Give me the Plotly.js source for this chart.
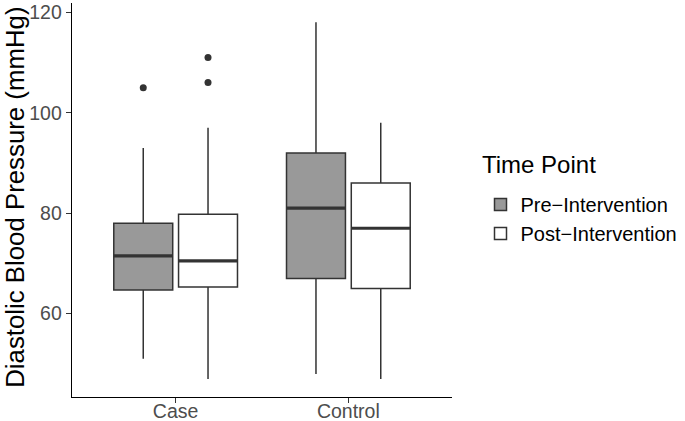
<!DOCTYPE html>
<html>
<head>
<meta charset="utf-8">
<script src="https://cdn.plot.ly/plotly-3.0.1.min.js"></script>
<style>
  html, body { margin: 0; padding: 0; background: #fff; }
  #chart { width: 685px; height: 421px; }
</style>
</head>
<body>
<div id="chart"></div>
<script>
const groups = ["Case", "Control"];

// box stats: [Case, Control]
const preQ1 = [64.7, 67];
const preMedian = [71.5, 81];
const preQ3 = [78, 92];
const preLow = [51, 48];
const preHigh = [93, 118];

const postQ1 = [65.3, 65];
const postMedian = [70.5, 77];
const postQ3 = [79.8, 86];
const postLow = [47, 47];
const postHigh = [97, 98];

const preOutX = ["Case"];
const preOutY = [105];
const postOutX = ["Case", "Case"];
const postOutY = [111, 106];

const dark = "#333333";
const font = "Liberation Sans, Arial, sans-serif";

function boxTrace(name, q1, med, q3, lo, hi, fill, grp) {
  return {
    type: "box", name: name, x: groups,
    q1: q1, median: med, q3: q3, lowerfence: lo, upperfence: hi,
    fillcolor: fill, line: {color: dark, width: 1.5},
    whiskerwidth: 0, boxpoints: false,
    offsetgroup: grp, hoverinfo: "skip"
  };
}

// thick median bar on top of each box
function medianTrace(med, grp) {
  return {
    type: "scatter", mode: "markers", x: groups, y: med,
    offsetgroup: grp, showlegend: false, hoverinfo: "skip",
    marker: {symbol: "line-ew", size: 42, color: dark, line: {color: dark, width: 3.2}}
  };
}

function outlierTrace(xs, ys, grp) {
  return {
    type: "scatter", mode: "markers", x: xs, y: ys,
    offsetgroup: grp, showlegend: false, hoverinfo: "skip",
    marker: {size: 7, color: dark}
  };
}

const data = [
  boxTrace("Pre\u2212Intervention", preQ1, preMedian, preQ3, preLow, preHigh, "#999999", "pre"),
  boxTrace("Post\u2212Intervention", postQ1, postMedian, postQ3, postLow, postHigh, "#ffffff", "post"),
  medianTrace(preMedian, "pre"),
  medianTrace(postMedian, "post"),
  outlierTrace(preOutX, preOutY, "pre"),
  outlierTrace(postOutX, postOutY, "post")
];

const layout = {
  width: 685, height: 421,
  margin: {l: 72, r: 233, t: 3, b: 24},
  paper_bgcolor: "#fff", plot_bgcolor: "#fff",
  font: {family: font, color: "#000"},
  boxmode: "group", boxgap: 0.25, boxgroupgap: 0.09,
  scattermode: "group", scattergap: 0.25,
  xaxis: {
    type: "category", categoryarray: groups, range: [-0.6, 1.6],
    showline: true, linecolor: "#000", linewidth: 1.3,
    ticks: "outside", ticklen: 5, tickcolor: dark, tickwidth: 1.3,
    ticklabelstandoff: -9,
    tickfont: {size: 19.5, color: "#4D4D4D"},
    showgrid: false, zeroline: false, automargin: false
  },
  yaxis: {
    range: [43.4, 121.85], tickvals: [60, 80, 100, 120],
    showline: true, linecolor: "#000", linewidth: 1.3,
    ticks: "outside", ticklen: 5, tickcolor: dark, tickwidth: 1.3,
    tickfont: {size: 19.5, color: "#4D4D4D"},
    showgrid: false, zeroline: false, automargin: false
  },
  showlegend: true,
  legend: {
    x: 1.075, y: 0.538, xanchor: "left", yanchor: "top",
    font: {size: 20, color: "#000"},
    tracegroupgap: 0, bgcolor: "rgba(0,0,0,0)"
  },
  annotations: [
    {
      text: "Diastolic Blood Pressure (mmHg)", xref: "paper", yref: "paper",
      x: -0.1505, y: 0.5076, xanchor: "center", yanchor: "middle", textangle: -90,
      borderpad: 0, showarrow: false, font: {size: 25.8, color: "#000"}
    },
    {
      text: "Time Point", xref: "paper", yref: "paper",
      x: 1.0737, y: 0.591, xanchor: "left", yanchor: "middle",
      showarrow: false, font: {size: 24, color: "#000"}
    }
  ]
};

Plotly.newPlot("chart", data, layout, {displayModeBar: false, staticPlot: true});
</script>
</body>
</html>
